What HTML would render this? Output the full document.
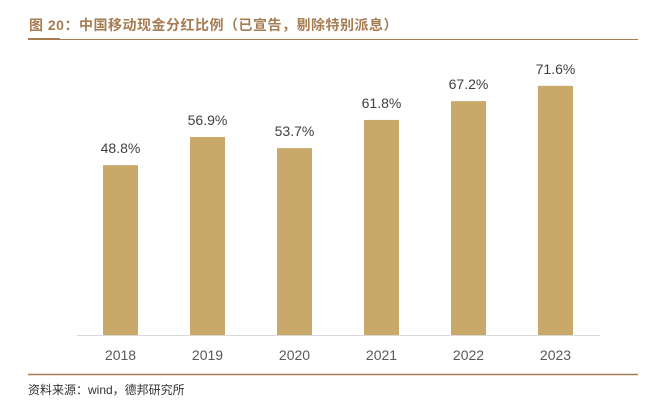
<!DOCTYPE html>
<html><head><meta charset="utf-8"><style>
body{margin:0;width:666px;height:403px;background:#fff;font-family:"Liberation Sans","Noto Sans CJK SC",sans-serif;overflow:hidden;position:relative}
.t{position:absolute;left:29px;top:15px;font-size:14px;font-weight:bold;color:#a67c52;letter-spacing:0.5px}
.src{position:absolute;left:28px;top:381px;font-size:12px;color:#333}
</style></head><body>
<div class="t">图 20：中国移动现金分红比例（已宣告，剔除特别派息）</div>
<svg width="666" height="403" style="position:absolute;left:0;top:0">
<line x1="28" y1="39.5" x2="638" y2="39.5" stroke="#a67c52" stroke-width="1"/>
<line x1="28" y1="38.5" x2="60" y2="38.5" stroke="#a67c52" stroke-width="1"/>
<line x1="28" y1="374.5" x2="638" y2="374.5" stroke="#a67c52" stroke-width="1.5"/>
<line x1="77" y1="335.5" x2="600" y2="335.5" stroke="#d9d9d9" stroke-width="1"/>
<g id="bars"></g>
</svg>
<div class="src">资料来源：wind，德邦研究所</div>
<script>
const categories=["2018","2019","2020","2021","2022","2023"];
const values=[48.8,56.9,53.7,61.8,67.2,71.6];
const labels=["48.8%","56.9%","53.7%","61.8%","67.2%","71.6%"];
const g=document.getElementById('bars');const ns='http://www.w3.org/2000/svg';
const x0=77,band=87,bw=35,base=335,k=3.48;
const xs=i=>x0+band*i+band/2; const ys=v=>base-v*k;
categories.forEach((c,i)=>{
 const r=document.createElementNS(ns,'rect');
 r.setAttribute('x',xs(i)-bw/2);r.setAttribute('y',ys(values[i]));r.setAttribute('width',bw);r.setAttribute('height',base-ys(values[i]));r.setAttribute('fill','#c9a96a');
 
 
 g.appendChild(r);
 const t=document.createElementNS(ns,'text');
 t.setAttribute('x',xs(i));t.setAttribute('y',ys(values[i])-12);t.setAttribute('text-anchor','middle');t.setAttribute('font-size','14');t.setAttribute('fill','#404040');t.textContent=labels[i];
 
 
 g.appendChild(t);
 const l=document.createElementNS(ns,'text');
 l.setAttribute('x',xs(i));l.setAttribute('y',360);l.setAttribute('text-anchor','middle');l.setAttribute('font-size','14');l.setAttribute('fill','#595959');l.textContent=c;
 
 
 g.appendChild(l);
});
</script>
</body></html>
